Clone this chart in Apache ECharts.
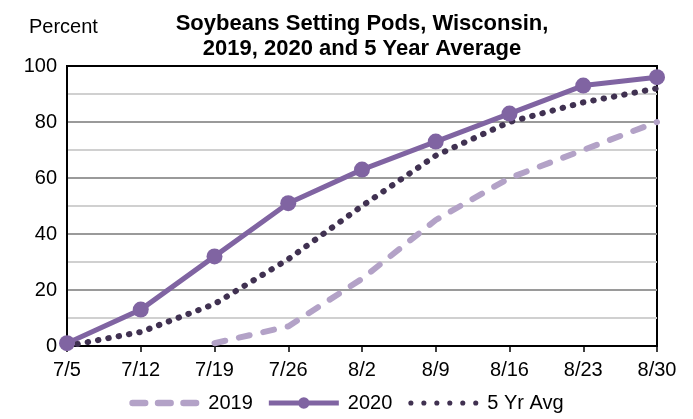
<!DOCTYPE html>
<html><head><meta charset="utf-8">
<script src="https://cdn.jsdelivr.net/npm/echarts@6/dist/echarts.min.js"></script>
<style>html,body{margin:0;padding:0;background:#fff}#c{width:693px;height:419px}</style>
</head><body><div id="c"></div>
<script>
const categories = ['7/5','7/12','7/19','7/26','8/2','8/9','8/16','8/23','8/30'];
const s2019 = [null, null, 1, 7, 24, 45, 60, 70, 80];
const s2020 = [1, 13, 32, 51, 63, 73, 83, 93, 96];
const s5yr = [0, 5, 15, 31, 50, 68, 80, 87, 92];
const yTicks = [0, 20, 40, 60, 80, 100];

const chart = echarts.init(document.getElementById('c'));
const font = 'Arial, "Liberation Sans", sans-serif';

function dashIcon() {
  let p = '';
  for (let i = 0; i < 3; i++) {
    const x = i * 24;
    p += `M${x+3},0 H${x+15} A3,3 0 0 1 ${x+15},6 H${x+3} A3,3 0 0 1 ${x+3},0 Z `;
  }
  return 'path://' + p;
}
function lineDotIcon() {
  return 'path://M0,4 H72 V9 H0 Z M42,6.5 A6,6 0 1 1 30,6.5 A6,6 0 1 1 42,6.5 Z';
}
function dotsIcon() {
  let p = '';
  for (let i = 0; i < 6; i++) {
    const c = 2.5 + i * 12.6;
    p += `M${c+2.5},2.5 A2.5,2.5 0 1 1 ${c-2.5},2.5 A2.5,2.5 0 1 1 ${c+2.5},2.5 Z `;
  }
  return 'path://' + p;
}

chart.setOption({
  animation: false,
  title: {
    text: 'Soybeans Setting Pods, Wisconsin,\n2019, 2020 and 5 Year Average',
    left: 357, top: 6, textAlign: 'center',
    textStyle: {fontFamily: font, fontSize: 22, fontWeight: 'bold', color: '#000', lineHeight: 25}
  },
  graphic: [{type: 'text', left: 29, top: 17, style: {text: 'Percent', fontFamily: font, fontSize: 20, fill: '#000'}}],
  legend: {
    top: 391, left: 'center', itemGap: 16, itemHeight: 13, padding: 2,
    textStyle: {fontFamily: font, fontSize: 20, color: '#000', padding: [0, 0, 0, 4]},
    data: [
      {name: '2019', icon: dashIcon(), itemWidth: 66},
      {name: '2020', icon: lineDotIcon()},
      {name: '5 Yr Avg', icon: dotsIcon()}
    ],
    itemWidth: 70
  },
  grid: {left: 67, right: 36, top: 66, bottom: 73, show: true, borderColor: '#000', borderWidth: 2},
  xAxis: {
    type: 'category', data: categories, boundaryGap: false,
    axisLine: {lineStyle: {color: '#000', width: 2}},
    axisTick: {show: true, length: 6, lineStyle: {color: '#000', width: 1.5}},
    axisLabel: {fontFamily: font, fontSize: 20, color: '#000', margin: 14},
    splitLine: {show: false}
  },
  yAxis: {
    type: 'value', min: 0, max: 100, interval: 10,
    axisLine: {show: true, lineStyle: {color: '#000', width: 2}},
    axisTick: {show: false},
    axisLabel: {fontFamily: font, fontSize: 20, color: '#000', margin: 10,
      formatter: v => yTicks.includes(v) ? String(v) : ''},
    splitLine: {show: true, lineStyle: {color: ['#000','#d0d0d0','#9a9a9a','#d0d0d0','#9a9a9a','#d0d0d0','#9a9a9a','#d0d0d0','#9a9a9a','#d0d0d0','#000'], width: 2}}
  },
  series: [
    {name: '2019', type: 'line', data: s2019, symbol: 'none',
      itemStyle: {color: '#B3A2C7'},
      lineStyle: {color: '#B3A2C7', width: 6, type: [11, 14], cap: 'round'}},
    {name: '2020', type: 'line', data: s2020, symbol: 'circle', symbolSize: 16,
      itemStyle: {color: '#8064A2'},
      lineStyle: {color: '#8064A2', width: 5}},
    {name: '5 Yr Avg', type: 'line', data: s5yr, symbol: 'none',
      itemStyle: {color: '#403151'},
      lineStyle: {color: '#403151', width: 6, type: [0.5, 10], cap: 'round'}, z: 3}
  ]
});
</script></body></html>
